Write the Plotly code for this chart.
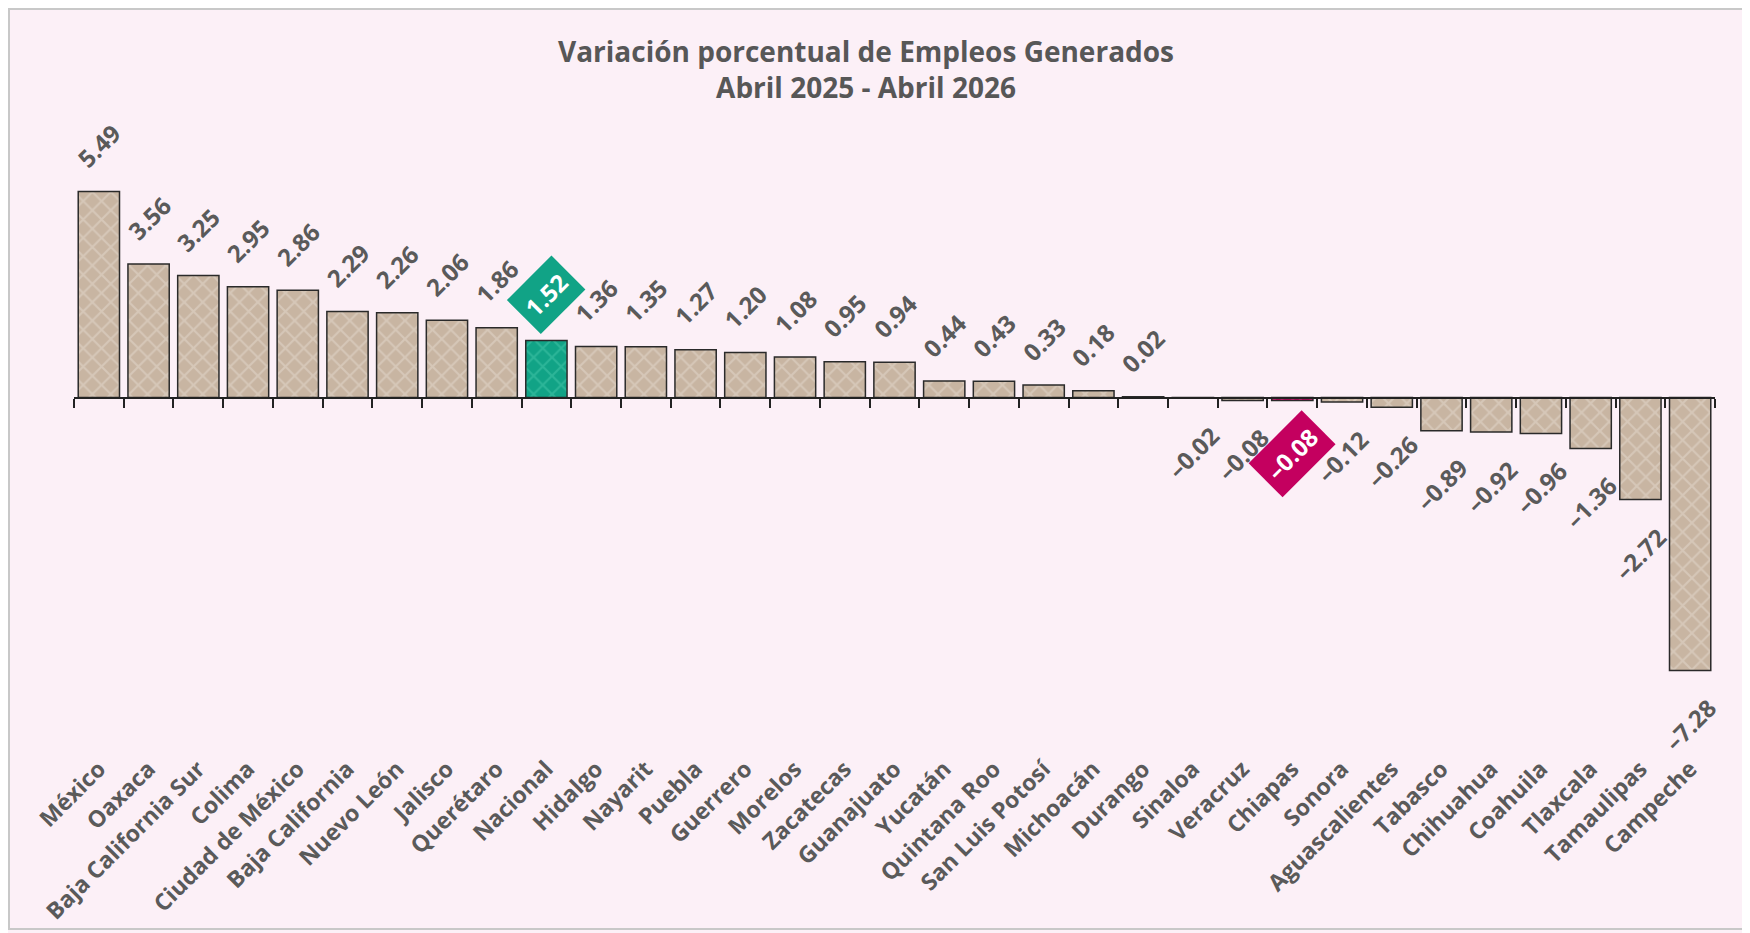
import plotly.graph_objects as go

estados = ["México", "Oaxaca", "Baja California Sur", "Colima", "Ciudad de México",
           "Baja California", "Nuevo León", "Jalisco", "Querétaro", "Nacional",
           "Hidalgo", "Nayarit", "Puebla", "Guerrero", "Morelos", "Zacatecas",
           "Guanajuato", "Yucatán", "Quintana Roo", "San Luis Potosí", "Michoacán",
           "Durango", "Sinaloa", "Veracruz", "Chiapas", "Sonora", "Aguascalientes",
           "Tabasco", "Chihuahua", "Coahuila", "Tlaxcala", "Tamaulipas", "Campeche"]
variacion = [5.49, 3.56, 3.25, 2.95, 2.86, 2.29, 2.26, 2.06, 1.86, 1.52,
             1.36, 1.35, 1.27, 1.20, 1.08, 0.95, 0.94, 0.44, 0.43, 0.33, 0.18,
             0.02, -0.02, -0.08, -0.08, -0.12, -0.26, -0.89, -0.92, -0.96,
             -1.36, -2.72, -7.28]
destacados = {"Nacional": ("#11a386", "#2cb598"), "Chiapas": ("#c4005f", "#d02a78")}

TAN, TAN_FG = "#c8b5a2", "#d6c7b8"
FONT = "Open Sans"
GREY = "#5a5a5a"
VAL_SIZE = 24

W, H = 1750, 933
OFF = 8  # page body margin offset
top_px, bot_px, zero_px, px_per_unit = 100 - OFF, 750 - OFF, 397.5 - OFF, 37.5
left_px, right_px = 74 - OFF, 1715 - OFF
ymax = (zero_px - top_px) / px_per_unit
ymin = -(bot_px - zero_px) / px_per_unit
zero_pos = (0 - ymin) / (ymax - ymin)
pw, ph = right_px - left_px, bot_px - top_px


def fmt(v):
    return f"{v:.2f}".replace("-", "\u2013")


def half_extent(s, size):
    w = sum(0.27 if c == "." else 0.5 if c == "\u2013" else 0.572 for c in s) * size
    return 0.707 * (w + 0.71 * size) / 2


fig = go.Figure()
groups = [("normal", TAN, TAN_FG)] + [(k, c[0], c[1]) for k, c in destacados.items()]
for name, bgc, fgc in groups:
    ys = [v if ((e == name) if name != "normal" else (e not in destacados)) else None
          for e, v in zip(estados, variacion)]
    fig.add_trace(go.Bar(
        x=estados, y=ys, name=name,
        marker=dict(color=bgc, line=dict(color="#2a2a2a", width=1.5),
                    pattern=dict(shape="x", fgcolor=fgc, bgcolor=bgc, fgopacity=1,
                                 size=13, solidity=0.3, fillmode="overlay")),
        hoverinfo="x+y", showlegend=False,
    ))
fig.add_trace(go.Scatter(x=estados, y=[0] * len(estados), xaxis="x2", mode="markers",
                         marker=dict(opacity=0), hoverinfo="skip", showlegend=False))

for e, v in zip(estados, variacion):
    s = fmt(v)
    if e in destacados:
        fig.add_annotation(x=e, y=v, text=f"<b>{s}</b>", showarrow=False, textangle=-45,
                           yshift=46 if v > 0 else -53,
                           font=dict(family=FONT, size=VAL_SIZE, color="white"),
                           bgcolor=destacados[e][0], borderpad=7)
    else:
        he = half_extent(s, VAL_SIZE)
        fig.add_annotation(x=e, y=v, text=s, showarrow=False, textangle=-45,
                           yshift=(23 + he) if v > 0 else -(27 + he),
                           font=dict(family=FONT, size=VAL_SIZE, color=GREY, weight=700))

fig.update_layout(
    width=W, height=H,
    margin=dict(l=left_px, r=W - right_px, t=top_px, b=H - bot_px, autoexpand=False),
    paper_bgcolor="#fcf0f7", plot_bgcolor="rgba(0,0,0,0)",
    barmode="overlay", bargap=0.17,
    title=dict(text="Variación porcentual de Empleos Generados<br>Abril 2025 - Abril 2026",
               x=(866 - OFF) / W, xanchor="center", y=1 - (61.5 - OFF) / H, yanchor="middle",
               yref="container",
               font=dict(family=FONT, size=28, color="#575757", weight=700)),
    xaxis=dict(type="category", categoryorder="array", categoryarray=estados,
               range=[-0.5, len(estados) - 0.5],
               showline=False, ticks="", tickangle=-45, showgrid=False, automargin=False,
               tickfont=dict(family=FONT, size=23, color=GREY, weight=700)),
    xaxis2=dict(type="category", categoryorder="array", categoryarray=estados,
                matches="x", overlaying="x", anchor="free", position=zero_pos,
                showline=True, linecolor="#222", linewidth=2,
                ticks="outside", tickson="boundaries", ticklen=9, tickwidth=1.5, tickcolor="#222",
                showticklabels=False, showgrid=False),
    yaxis=dict(range=[ymin, ymax], visible=False, showgrid=False, zeroline=False, fixedrange=True),
    shapes=[dict(type="rect", xref="paper", yref="paper",
                 x0=(1 - left_px) / pw, x1=(1738 - left_px) / pw,
                 y0=(bot_px - 921) / ph, y1=(bot_px - 1) / ph,
                 line=dict(color="#c8c8c8", width=2), fillcolor="rgba(0,0,0,0)", layer="below")],
)

fig.write_html("out.html")
